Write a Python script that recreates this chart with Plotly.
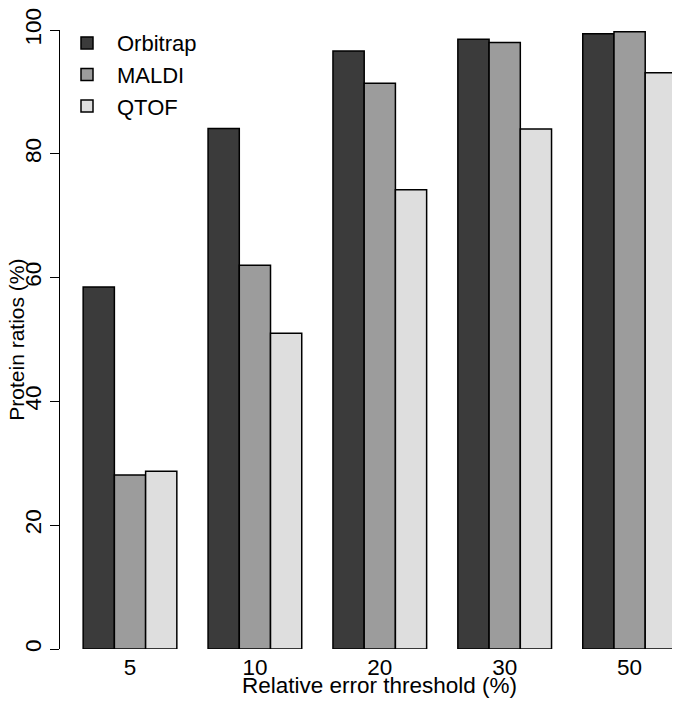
import plotly.graph_objects as go

# relative error thresholds (%)
thresholds = ['5', '10', '20', '30', '50']

# protein ratios (%) within each threshold
orbitrap = [58.5, 84.1, 96.6, 98.5, 99.4]
maldi = [28.1, 62.0, 91.4, 98.0, 99.7]
qtof = [28.7, 51.0, 74.2, 84.0, 93.1]

series = [('Orbitrap', orbitrap, '#3b3b3b'),
          ('MALDI', maldi, '#9c9c9c'),
          ('QTOF', qtof, '#dedede')]

# the page body adds an 8px margin, so the figure is made 8px smaller
W, H = 672, 698
font = 'Liberation Sans, Arial, sans-serif'

fig = go.Figure()
for name, vals, col in series:
    fig.add_trace(go.Bar(
        x=thresholds, y=vals, name=name,
        marker=dict(color=col, line=dict(color='black', width=1.5)),
    ))

fig.update_layout(
    width=W, height=H,
    margin=dict(l=0, r=0, t=19, b=57),
    paper_bgcolor='white', plot_bgcolor='white',
    barmode='group', bargap=0.25, bargroupgap=0,
    font=dict(family=font, size=22, color='black'),
    legend=dict(x=49 / W, y=1.0128, xanchor='left', yanchor='top',
                itemwidth=50, bgcolor='rgba(0,0,0,0)', font=dict(size=22)),
    xaxis=dict(
        domain=[70 / W, 1],
        range=[-0.4163, 4.4035],
        showline=False, showgrid=False, zeroline=False,
        ticks='', ticklabelstandoff=2,
        tickfont=dict(size=22.5),
    ),
    yaxis=dict(
        anchor='free', position=51 / W,
        range=[0, 100], tickvals=[0, 20, 40, 60, 80, 100],
        showline=True, linecolor='black', linewidth=1.3,
        ticks='outside', ticklen=9, tickwidth=1.3, tickcolor='black',
        tickangle=-90, ticklabelstandoff=0, ticklabeloverflow='allow',
        tickfont=dict(size=22.5),
        showgrid=False, zeroline=False,
    ),
    annotations=[
        dict(text='Relative error threshold (%)', xref='paper', yref='paper',
             x=371 / W, y=-0.0587, xanchor='center', yanchor='middle',
             showarrow=False, font=dict(size=22.5)),
        dict(text='Protein ratios (%)', xref='paper', yref='paper',
             x=8.2 / W, y=0.5, xanchor='center', yanchor='middle',
             textangle=-90, showarrow=False, font=dict(size=21)),
    ],
)

fig.write_html('out.html')
